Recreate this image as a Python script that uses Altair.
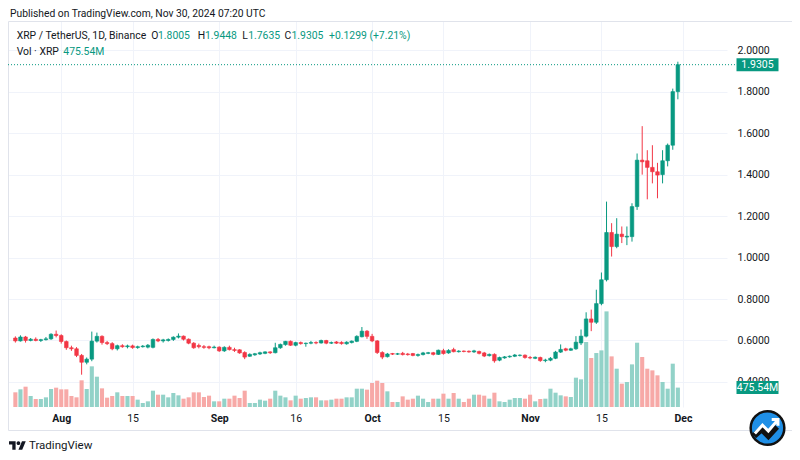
import altair as alt
import pandas as pd
import numpy as np

# ---------------- data (XRP / TetherUS, 1D, Binance) ----------------
start_date = "2024-07-23"
opens = [
    0.612, 0.598, 0.617, 0.600, 0.606, 0.600, 0.604, 0.608, 0.630, 0.624,
    0.595, 0.565, 0.560, 0.528, 0.495, 0.510, 0.597, 0.620, 0.590, 0.585,
    0.560, 0.575, 0.570, 0.574, 0.566, 0.570, 0.568, 0.567, 0.605, 0.598,
    0.600, 0.605, 0.616, 0.621, 0.606, 0.587, 0.576, 0.570, 0.570, 0.565,
    0.568, 0.550, 0.567, 0.556, 0.555, 0.542, 0.524, 0.531, 0.535, 0.538,
    0.545, 0.541, 0.565, 0.580, 0.596, 0.577, 0.590, 0.585, 0.587, 0.590,
    0.588, 0.600, 0.587, 0.593, 0.591, 0.584, 0.590, 0.596, 0.618, 0.645,
    0.620, 0.598, 0.542, 0.522, 0.537, 0.534, 0.538, 0.535, 0.537, 0.528,
    0.532, 0.538, 0.541, 0.533, 0.551, 0.540, 0.556, 0.546, 0.549, 0.548,
    0.545, 0.547, 0.540, 0.527, 0.533, 0.505, 0.516, 0.521, 0.524, 0.528,
    0.529, 0.518, 0.514, 0.518, 0.503, 0.505, 0.514, 0.544, 0.560, 0.553,
    0.560, 0.588, 0.621, 0.704, 0.688, 0.778, 0.893, 1.121, 1.053, 1.113,
    1.099, 1.101, 1.246, 1.470, 1.467, 1.435, 1.414, 1.400, 1.467, 1.542,
    1.8005]
highs = [
    0.620, 0.625, 0.622, 0.612, 0.615, 0.608, 0.617, 0.635, 0.648, 0.630,
    0.600, 0.575, 0.568, 0.535, 0.518, 0.643, 0.638, 0.625, 0.598, 0.592,
    0.580, 0.582, 0.580, 0.580, 0.575, 0.578, 0.583, 0.610, 0.612, 0.608,
    0.610, 0.620, 0.634, 0.624, 0.610, 0.592, 0.585, 0.578, 0.575, 0.575,
    0.572, 0.572, 0.575, 0.565, 0.558, 0.548, 0.538, 0.540, 0.546, 0.548,
    0.548, 0.589, 0.585, 0.598, 0.600, 0.594, 0.595, 0.590, 0.598, 0.596,
    0.604, 0.603, 0.595, 0.597, 0.596, 0.596, 0.600, 0.625, 0.665, 0.650,
    0.632, 0.602, 0.548, 0.540, 0.540, 0.540, 0.545, 0.540, 0.540, 0.537,
    0.545, 0.545, 0.545, 0.556, 0.560, 0.558, 0.565, 0.553, 0.552, 0.552,
    0.555, 0.551, 0.545, 0.537, 0.538, 0.522, 0.525, 0.528, 0.535, 0.533,
    0.533, 0.525, 0.523, 0.522, 0.512, 0.520, 0.550, 0.581, 0.565, 0.565,
    0.621, 0.653, 0.736, 0.749, 0.845, 0.928, 1.270, 1.166, 1.190, 1.150,
    1.150, 1.262, 1.502, 1.634, 1.518, 1.542, 1.457, 1.518, 1.550, 1.815,
    1.9448]
lows = [
    0.590, 0.595, 0.590, 0.596, 0.596, 0.593, 0.600, 0.603, 0.615, 0.585,
    0.555, 0.550, 0.520, 0.435, 0.485, 0.500, 0.590, 0.580, 0.578, 0.553,
    0.552, 0.565, 0.562, 0.560, 0.560, 0.566, 0.562, 0.562, 0.592, 0.590,
    0.595, 0.598, 0.610, 0.600, 0.582, 0.560, 0.562, 0.560, 0.558, 0.562,
    0.545, 0.545, 0.552, 0.545, 0.536, 0.510, 0.521, 0.526, 0.530, 0.534,
    0.535, 0.538, 0.560, 0.575, 0.574, 0.572, 0.580, 0.570, 0.582, 0.582,
    0.585, 0.582, 0.583, 0.583, 0.580, 0.580, 0.586, 0.592, 0.615, 0.608,
    0.592, 0.535, 0.510, 0.518, 0.530, 0.530, 0.528, 0.527, 0.524, 0.522,
    0.528, 0.534, 0.528, 0.530, 0.532, 0.536, 0.543, 0.542, 0.543, 0.541,
    0.540, 0.533, 0.520, 0.523, 0.493, 0.500, 0.512, 0.517, 0.520, 0.523,
    0.512, 0.510, 0.510, 0.497, 0.495, 0.500, 0.510, 0.540, 0.548, 0.550,
    0.555, 0.578, 0.615, 0.645, 0.680, 0.770, 0.885, 1.005, 1.045, 1.070,
    1.060, 1.077, 1.230, 1.400, 1.281, 1.358, 1.286, 1.358, 1.440, 1.520,
    1.7635]
closes = [
    0.598, 0.617, 0.600, 0.606, 0.600, 0.604, 0.608, 0.630, 0.624, 0.595,
    0.565, 0.560, 0.528, 0.495, 0.510, 0.597, 0.620, 0.590, 0.585, 0.560,
    0.575, 0.570, 0.574, 0.566, 0.570, 0.573, 0.577, 0.605, 0.598, 0.603,
    0.605, 0.616, 0.621, 0.606, 0.587, 0.565, 0.570, 0.567, 0.565, 0.568,
    0.550, 0.567, 0.556, 0.552, 0.540, 0.520, 0.533, 0.536, 0.541, 0.545,
    0.541, 0.565, 0.581, 0.596, 0.577, 0.590, 0.585, 0.587, 0.590, 0.588,
    0.600, 0.587, 0.590, 0.587, 0.585, 0.592, 0.597, 0.620, 0.645, 0.620,
    0.598, 0.542, 0.520, 0.535, 0.534, 0.536, 0.532, 0.532, 0.528, 0.532,
    0.540, 0.541, 0.533, 0.553, 0.537, 0.552, 0.546, 0.549, 0.547, 0.545,
    0.550, 0.538, 0.525, 0.533, 0.502, 0.518, 0.521, 0.524, 0.530, 0.529,
    0.518, 0.516, 0.519, 0.503, 0.506, 0.514, 0.544, 0.557, 0.553, 0.560,
    0.592, 0.621, 0.704, 0.688, 0.778, 0.893, 1.121, 1.053, 1.113, 1.101,
    1.103, 1.246, 1.470, 1.462, 1.435, 1.414, 1.398, 1.467, 1.542, 1.8006,
    1.9305]
volumes = [  # millions of XRP
    360, 433, 498, 270, 196, 196, 237, 441, 474, 433,
    433, 270, 237, 654, 441, 997, 743, 457, 229, 270,
    360, 270, 270, 270, 180, 98, 139, 400, 302, 302,
    237, 343, 286, 204, 237, 359, 359, 245, 278, 139,
    139, 204, 204, 278, 220, 400, 98, 98, 180, 155,
    204, 400, 278, 237, 163, 278, 204, 220, 237, 237,
    163, 163, 180, 204, 204, 237, 237, 449, 449, 425,
    588, 645, 588, 384, 122, 122, 261, 180, 204, 278,
    204, 122, 204, 204, 327, 204, 343, 204, 122, 204,
    302, 302, 278, 204, 351, 139, 122, 180, 220, 220,
    204, 302, 139, 196, 204, 449, 351, 286, 261, 245,
    719, 678, 1593, 1201, 1323, 1388, 2344, 1241, 939, 572,
    613, 1045, 1576, 1225, 939, 898, 776, 613, 449, 1062,
    475.54]
price_ticks = [0.4, 0.6, 0.8, 1.0, 1.2, 1.4, 1.6, 1.8, 2.0]
time_ticks = ["2024-08-01", "2024-08-15", "2024-09-01", "2024-09-16", "2024-10-01",
              "2024-10-15", "2024-11-01", "2024-11-15", "2024-12-01"]

n = len(closes)
assert len(opens) == len(highs) == len(lows) == len(volumes) == n
dates = pd.date_range(start_date, periods=n, freq="D", tz="UTC")
t_ms = (dates.asi8 // 1_000_000).tolist()
df = pd.DataFrame({"t": t_ms, "open": opens, "high": highs, "low": lows,
                   "close": closes, "vol": volumes})
last = df.iloc[[-1]].copy()

# ---------------- layout / style ----------------
FONT = "Roboto"
TXT = "#131722"
UP, DOWN = "#089981", "#f23645"
VUP, VDOWN = "#92d2c8", "#f7a9a7"
GRID = "#f0f3fa"
W, H = 719, 386
DAY = 86_400_000
PX_PER_DAY = 5.168
x0 = t_ms[0] - 2.4 / PX_PER_DAY * DAY
x1 = x0 + W / PX_PER_DAY * DAY
tick_ms = [int(pd.Timestamp(d, tz="UTC").value // 1_000_000) for d in time_ticks]

up_cond = "datum.close >= datum.open"

x_enc = alt.X(
    "t:T",
    scale=alt.Scale(type="utc", domain=[x0, x1]),
    axis=alt.Axis(
        values=tick_ms, title=None, grid=True, gridColor=GRID, domain=False, ticks=False,
        labelExpr="utcdate(datum.value) == 1 ? utcFormat(datum.value, '%b') : utcFormat(datum.value, '%d')",
        labelFontWeight={"condition": {"test": "utcdate(datum.value) == 1", "value": "bold"}, "value": "normal"},
        labelFont=FONT, labelFontSize=10.5, labelColor=TXT, labelPadding=6,
    ),
)

price_scale = alt.Scale(domain=[0.2792, 2.1412], nice=False, zero=False)
price_axis = alt.Axis(
    orient="right", values=price_ticks, format=".4f", title=None, grid=True, gridColor=GRID,
    domain=False, ticks=False, labelPadding=10, labelFont=FONT, labelFontSize=10.5,
    labelColor=TXT,
)

base = alt.Chart(df)

wicks = base.mark_rule(strokeWidth=1).encode(
    x=x_enc,
    y=alt.Y("low:Q", scale=price_scale, axis=price_axis),
    y2="high:Q",
    color=alt.condition(up_cond, alt.value(UP), alt.value(DOWN)),
)
bodies = base.mark_bar(size=3.6, strokeWidth=0.6).encode(
    x=x_enc,
    y=alt.Y("open:Q", scale=price_scale, axis=price_axis),
    y2="close:Q",
    color=alt.condition(up_cond, alt.value(UP), alt.value(DOWN)),
    stroke=alt.condition(up_cond, alt.value(UP), alt.value(DOWN)),
)
close_line = alt.Chart(last).mark_rule(strokeDash=[1, 2], strokeWidth=1, color=UP).encode(
    y=alt.Y("close:Q", scale=price_scale, axis=price_axis),
    x=alt.value(0), x2=alt.value(728.7),
)
TAG_PATH = "M-1,-0.31L1,-0.31L1,0.31L-1,0.31Z"
close_tag = alt.Chart(last).mark_point(shape=TAG_PATH, size=1764, filled=True, opacity=1, color=UP).encode(
    y=alt.Y("close:Q", scale=price_scale, axis=price_axis),
    x=alt.value(749.5),
)
close_txt = alt.Chart(last).mark_text(color="white", font=FONT, fontSize=10.5, baseline="middle", align="center").encode(
    y=alt.Y("close:Q", scale=price_scale, axis=price_axis),
    x=alt.value(749.5),
    text=alt.Text("close:Q", format=".4f"),
)
price_layer = alt.layer(wicks, bodies, close_line, close_tag, close_txt)

vol_scale = alt.Scale(domain=[0, 9462], nice=False)
vol_bars = base.mark_bar(size=4.1).encode(
    x=x_enc,
    y=alt.Y("vol:Q", scale=vol_scale, axis=None),
    color=alt.condition(up_cond, alt.value(VUP), alt.value(VDOWN)),
)
vol_tag = alt.Chart(last).mark_point(shape=TAG_PATH, size=1764, filled=True, opacity=1, color=UP).encode(
    y=alt.Y("vol:Q", scale=vol_scale, axis=None),
    x=alt.value(749.5),
)
last["vol_label"] = [f"{v:.2f}M" for v in last["vol"]]
vol_txt = alt.Chart(last).mark_text(color="white", font=FONT, fontSize=10.5, baseline="middle", align="center").encode(
    y=alt.Y("vol:Q", scale=vol_scale, axis=None),
    x=alt.value(749.5),
    text="vol_label:N",
)
vol_layer = alt.layer(vol_bars, vol_tag, vol_txt)


def label(text, x, y, color=TXT, size=10.4, weight="normal", align="left"):
    return alt.Chart(pd.DataFrame({"s": [text]})).mark_text(
        font=FONT, fontSize=size, fontWeight=weight, color=color, align=align, baseline="middle"
    ).encode(x=alt.value(x), y=alt.value(y), text="s:N")


o, h, l, c = opens[-1], highs[-1], lows[-1], closes[-1]
chg = c - closes[-2]
pct = chg / closes[-2] * 100

annotations = [
    label("Published on TradingView.com, Nov 30, 2024 07:20 UTC", 2, -7, size=10.3),
    label("XRP / TetherUS, 1D, Binance", 8.7, 14.5),
    label("O", 143.2, 14.5),
    label(f"{o:.4f}", 150, 14.5, color=UP),
    label("H", 189.8, 14.5),
    label(f"{h:.4f}", 197, 14.5, color=UP),
    label("L", 234.2, 14.5),
    label(f"{l:.4f}", 240.2, 14.5, color=UP),
    label("C", 276.5, 14.5),
    label(f"{c:.4f}", 283.5, 14.5, color=UP),
    label(f"{chg:+.4f} ({pct:+.2f}%)", 321, 14.5, color=UP),
    label("Vol · XRP", 8.7, 30.7),
    label(f"{volumes[-1]:.2f}M", 55.3, 30.7, color=UP),
    label("TradingView", 21, 425, size=11.5),
]

one = pd.DataFrame({"k": [0]})
frame = alt.Chart(one).mark_rect(fill="transparent", stroke="#e0e3eb", strokeWidth=1).encode(
    x=alt.value(0.5), x2=alt.value(787), y=alt.value(0.5), y2=alt.value(409.5)
)
TV_PATH = ("M-0.222,0.444H-0.611V-0.167H-1V-0.556H-0.222Z"
           "M0.556,0.444H0.111L0.528,-0.556H0.972Z"
           "M-0.111,-0.333a0.222,0.222 0 1,0 0.444,0a0.222,0.222 0 1,0 -0.444,0Z")
tv_logo = alt.Chart(one).mark_point(shape=TV_PATH, size=289, filled=True, opacity=1, color=TXT).encode(
    x=alt.value(9.5), y=alt.value(425)
)
badge = alt.Chart(one).mark_point(shape="circle", size=1134, filled=True, opacity=1,
                                  color="#1f8fe6", stroke="#111111", strokeWidth=2.5).encode(
    x=alt.value(759.5), y=alt.value(407)
)
badge_wave = alt.Chart(one).mark_point(
    shape="M-0.8,0.35L-0.35,-0.05L0.05,0.35L0.55,-0.2", size=1134, filled=False, opacity=1,
    color="#111111", strokeWidth=6).encode(x=alt.value(759.5), y=alt.value(409))
badge_arrow = alt.Chart(one).mark_point(
    shape="M-0.75,0.45L-0.3,-0.05L0.05,0.3L0.6,-0.35M0.25,-0.38L0.62,-0.38L0.62,-0.02",
    size=1134, filled=False, opacity=1, color="white", strokeWidth=3).encode(
    x=alt.value(759.5), y=alt.value(405))

chart = alt.layer(
    frame, vol_layer, price_layer, *annotations, tv_logo, badge, badge_wave, badge_arrow
).resolve_scale(y="independent").properties(
    width=W, height=H,
    autosize=alt.AutoSizeParams(type="none"),
    padding={"left": 0, "top": 13, "right": 65, "bottom": 45},
    background="white",
).configure_view(strokeWidth=0)

chart.save("out.html", embed_options={"renderer": "svg", "actions": False})
